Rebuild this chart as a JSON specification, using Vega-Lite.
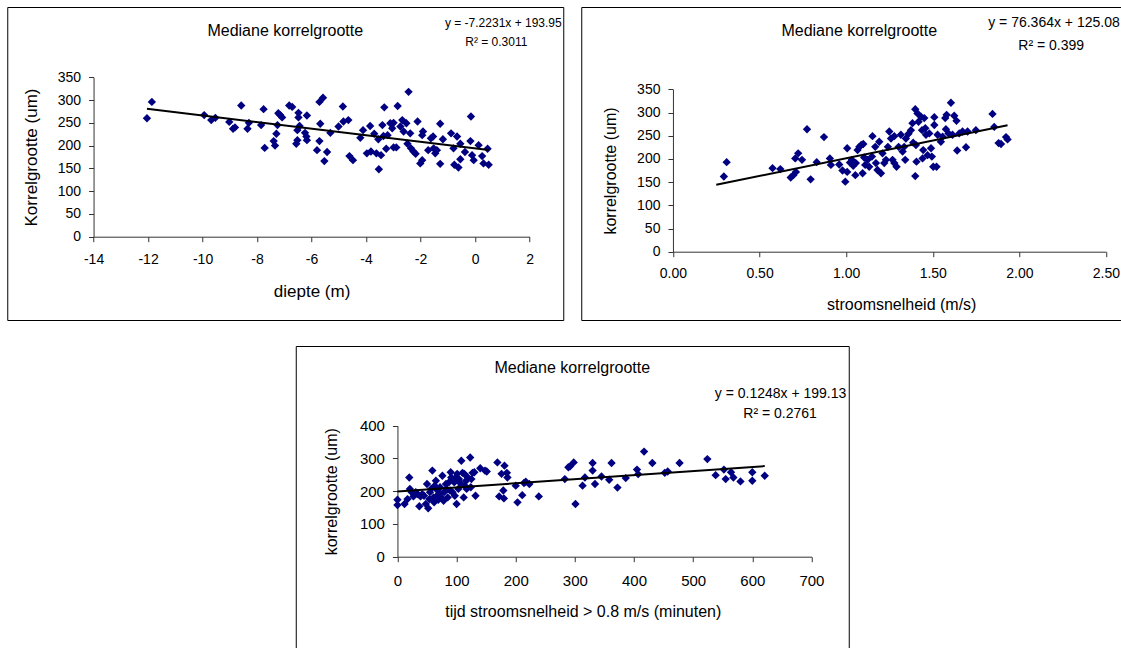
{
  "$schema": "https://vega.github.io/schema/vega-lite/v6.json",
  "padding": {"left": 6, "top": 6, "right": 0, "bottom": 0},
  "background": "white",
  "config": {
    "font": "Liberation Sans",
    "view": {"stroke": "black", "strokeWidth": 1},
    "axis": {
      "domainColor": "#333333", "tickColor": "#333333", "labelColor": "black", "titleColor": "black",
      "labelFont": "Liberation Sans", "titleFont": "Liberation Sans", "titleFontWeight": "normal",
      "grid": false, "tickSize": 5, "labelOverlap": false, "labelFlush": false
    },
    "title": {"font": "Liberation Sans", "fontWeight": "normal", "color": "black", "frame": "group", "anchor": "middle"},
    "text": {"font": "Liberation Sans", "color": "black"}
  },
  "datasets": {
    "d1": [
      {"x": -12.04, "y": 260}, {"x": -11.86, "y": 296}, {"x": -9.94, "y": 267}, {"x": -9.68, "y": 256}, {"x": -9.53, "y": 261},
      {"x": -9.02, "y": 252}, {"x": -8.88, "y": 237}, {"x": -8.81, "y": 240}, {"x": -8.58, "y": 288}, {"x": -8.35, "y": 237},
      {"x": -8.3, "y": 250}, {"x": -7.85, "y": 245}, {"x": -7.76, "y": 280}, {"x": -7.72, "y": 195}, {"x": -7.39, "y": 210},
      {"x": -7.34, "y": 200}, {"x": -7.29, "y": 226}, {"x": -7.25, "y": 245}, {"x": -7.22, "y": 271}, {"x": -7.15, "y": 267},
      {"x": -7.08, "y": 262}, {"x": -6.82, "y": 288}, {"x": -6.71, "y": 285}, {"x": -6.56, "y": 204}, {"x": -6.52, "y": 212},
      {"x": -6.52, "y": 234}, {"x": -6.48, "y": 272}, {"x": -6.48, "y": 262}, {"x": -6.44, "y": 243}, {"x": -6.24, "y": 228},
      {"x": -6.19, "y": 220}, {"x": -6.17, "y": 212}, {"x": -6.17, "y": 266},
      {"x": -5.71, "y": 296}, {"x": -5.58, "y": 305}, {"x": -5.68, "y": 248}, {"x": -5.71, "y": 210}, {"x": -5.8, "y": 190},
      {"x": -5.43, "y": 186}, {"x": -5.53, "y": 166}, {"x": -5.31, "y": 228}, {"x": -4.85, "y": 286}, {"x": -5.01, "y": 242},
      {"x": -4.83, "y": 253}, {"x": -4.65, "y": 256}, {"x": -4.61, "y": 177}, {"x": -4.48, "y": 168}, {"x": -4.21, "y": 217},
      {"x": -4.11, "y": 234}, {"x": -3.97, "y": 183}, {"x": -3.85, "y": 243}, {"x": -3.82, "y": 187}, {"x": -3.7, "y": 226},
      {"x": -3.62, "y": 183}, {"x": -3.53, "y": 148}, {"x": -3.55, "y": 214}, {"x": -3.45, "y": 179}, {"x": -3.4, "y": 245},
      {"x": -3.33, "y": 284}, {"x": -3.36, "y": 221}, {"x": -3.21, "y": 223}, {"x": -3.26, "y": 193}, {"x": -3.11, "y": 249},
      {"x": -3.04, "y": 238}, {"x": -2.99, "y": 196}, {"x": -2.89, "y": 196}, {"x": -2.99, "y": 250}, {"x": -2.84, "y": 287},
      {"x": -2.74, "y": 242}, {"x": -2.67, "y": 256}, {"x": -2.62, "y": 231}, {"x": -2.52, "y": 249}, {"x": -2.44, "y": 318},
      {"x": -2.48, "y": 204}, {"x": -2.38, "y": 227}, {"x": -2.35, "y": 194}, {"x": -2.26, "y": 187}, {"x": -2.18, "y": 182},
      {"x": -2.11, "y": 253}, {"x": -2.01, "y": 161}, {"x": -1.94, "y": 168}, {"x": -1.91, "y": 231}, {"x": -1.94, "y": 223},
      {"x": -1.72, "y": 190}, {"x": -1.62, "y": 216}, {"x": -1.54, "y": 220}, {"x": -1.52, "y": 194}, {"x": -1.46, "y": 183},
      {"x": -1.4, "y": 190}, {"x": -1.28, "y": 248}, {"x": -1.28, "y": 160}, {"x": -1.18, "y": 214}, {"x": -0.88, "y": 227},
      {"x": -0.79, "y": 194}, {"x": -0.76, "y": 158}, {"x": -0.66, "y": 220}, {"x": -0.61, "y": 152}, {"x": -0.54, "y": 204},
      {"x": -0.54, "y": 170}, {"x": -0.37, "y": 186}, {"x": -0.15, "y": 264}, {"x": -0.17, "y": 210}, {"x": -0.11, "y": 179},
      {"x": -0.05, "y": 168}, {"x": 0.13, "y": 201}, {"x": 0.26, "y": 177}, {"x": 0.31, "y": 161}, {"x": 0.46, "y": 193},
      {"x": 0.5, "y": 158}
    ],
    "t1": [{"x": -12.04, "y": 280.92}, {"x": 0.5, "y": 190.34}],
    "d2": [
      {"x": 0.294, "y": 162}, {"x": 0.31, "y": 193}, {"x": 0.575, "y": 180}, {"x": 0.62, "y": 178}, {"x": 0.68, "y": 160},
      {"x": 0.695, "y": 165}, {"x": 0.71, "y": 172}, {"x": 0.706, "y": 201}, {"x": 0.723, "y": 212}, {"x": 0.745, "y": 198},
      {"x": 0.774, "y": 264}, {"x": 0.795, "y": 156}, {"x": 0.83, "y": 193}, {"x": 0.872, "y": 247}, {"x": 0.906, "y": 201},
      {"x": 0.912, "y": 187}, {"x": 0.96, "y": 188}, {"x": 0.979, "y": 175}, {"x": 0.995, "y": 151}, {"x": 1.006, "y": 223},
      {"x": 1.006, "y": 172}, {"x": 1.022, "y": 192}, {"x": 1.033, "y": 198}, {"x": 1.041, "y": 185}, {"x": 1.053, "y": 165},
      {"x": 1.056, "y": 191}, {"x": 1.066, "y": 219}, {"x": 1.076, "y": 226}, {"x": 1.087, "y": 230}, {"x": 1.099, "y": 232},
      {"x": 1.095, "y": 169}, {"x": 1.104, "y": 203}, {"x": 1.11, "y": 187}, {"x": 1.124, "y": 198},
      {"x": 1.133, "y": 183}, {"x": 1.152, "y": 249}, {"x": 1.149, "y": 205}, {"x": 1.172, "y": 191}, {"x": 1.168, "y": 226},
      {"x": 1.181, "y": 176}, {"x": 1.191, "y": 237}, {"x": 1.201, "y": 169}, {"x": 1.21, "y": 212}, {"x": 1.22, "y": 191},
      {"x": 1.23, "y": 198}, {"x": 1.241, "y": 226}, {"x": 1.249, "y": 259}, {"x": 1.259, "y": 244}, {"x": 1.268, "y": 198},
      {"x": 1.278, "y": 191}, {"x": 1.291, "y": 183}, {"x": 1.278, "y": 249}, {"x": 1.303, "y": 226}, {"x": 1.316, "y": 252},
      {"x": 1.326, "y": 216}, {"x": 1.335, "y": 226}, {"x": 1.341, "y": 198}, {"x": 1.345, "y": 244}, {"x": 1.36, "y": 254},
      {"x": 1.374, "y": 262}, {"x": 1.383, "y": 277}, {"x": 1.387, "y": 235}, {"x": 1.399, "y": 307}, {"x": 1.403, "y": 230},
      {"x": 1.406, "y": 194}, {"x": 1.399, "y": 163}, {"x": 1.412, "y": 298}, {"x": 1.418, "y": 280}, {"x": 1.432, "y": 291},
      {"x": 1.438, "y": 262}, {"x": 1.441, "y": 201}, {"x": 1.445, "y": 219}, {"x": 1.451, "y": 288}, {"x": 1.457, "y": 266},
      {"x": 1.461, "y": 252}, {"x": 1.47, "y": 208}, {"x": 1.48, "y": 255}, {"x": 1.49, "y": 223}, {"x": 1.495, "y": 205},
      {"x": 1.503, "y": 183}, {"x": 1.509, "y": 290}, {"x": 1.509, "y": 273}, {"x": 1.522, "y": 183}, {"x": 1.528, "y": 252},
      {"x": 1.547, "y": 237}, {"x": 1.557, "y": 248}, {"x": 1.572, "y": 288}, {"x": 1.576, "y": 264}, {"x": 1.58, "y": 295},
      {"x": 1.591, "y": 255}, {"x": 1.605, "y": 321}, {"x": 1.614, "y": 252}, {"x": 1.624, "y": 293}, {"x": 1.637, "y": 282},
      {"x": 1.641, "y": 218}, {"x": 1.653, "y": 255}, {"x": 1.672, "y": 259}, {"x": 1.692, "y": 225}, {"x": 1.701, "y": 259},
      {"x": 1.749, "y": 262}, {"x": 1.845, "y": 297}, {"x": 1.855, "y": 269}, {"x": 1.88, "y": 234}, {"x": 1.894, "y": 232},
      {"x": 1.923, "y": 247}, {"x": 1.932, "y": 242}
    ],
    "t2": [{"x": 0.25, "y": 144.17}, {"x": 1.932, "y": 272.62}],
    "d3": [
      {"x": 0, "y": 174}, {"x": 0, "y": 158}, {"x": 12, "y": 161}, {"x": 17, "y": 176}, {"x": 20, "y": 242}, {"x": 21, "y": 207},
      {"x": 24, "y": 197}, {"x": 27, "y": 184}, {"x": 31, "y": 197}, {"x": 34, "y": 191}, {"x": 37, "y": 154}, {"x": 39, "y": 184},
      {"x": 42, "y": 191}, {"x": 45, "y": 186}, {"x": 48, "y": 161}, {"x": 50, "y": 222}, {"x": 52, "y": 148}, {"x": 54, "y": 176},
      {"x": 55, "y": 197}, {"x": 57, "y": 207}, {"x": 59, "y": 263}, {"x": 61, "y": 181}, {"x": 62, "y": 166}, {"x": 63, "y": 217},
      {"x": 65, "y": 232}, {"x": 67, "y": 186}, {"x": 68, "y": 202}, {"x": 69, "y": 174}, {"x": 70, "y": 191}, {"x": 72, "y": 212},
      {"x": 74, "y": 181}, {"x": 76, "y": 247}, {"x": 78, "y": 171}, {"x": 79, "y": 197}, {"x": 82, "y": 222}, {"x": 83, "y": 207},
      {"x": 85, "y": 181}, {"x": 87, "y": 227}, {"x": 89, "y": 202}, {"x": 90, "y": 258}, {"x": 91, "y": 242}, {"x": 93, "y": 197},
      {"x": 96, "y": 227}, {"x": 97, "y": 186}, {"x": 99, "y": 242}, {"x": 100, "y": 161}, {"x": 101, "y": 253}, {"x": 103, "y": 207},
      {"x": 104, "y": 237}, {"x": 106, "y": 225}, {"x": 108, "y": 293}, {"x": 110, "y": 256}, {"x": 112, "y": 181}, {"x": 113, "y": 253},
      {"x": 114, "y": 217}, {"x": 116, "y": 232}, {"x": 117, "y": 207}, {"x": 119, "y": 242}, {"x": 123, "y": 303}, {"x": 124, "y": 212},
      {"x": 125, "y": 237}, {"x": 127, "y": 256}, {"x": 130, "y": 258}, {"x": 132, "y": 186}, {"x": 140, "y": 270}, {"x": 148, "y": 263},
      {"x": 151, "y": 260}, {"x": 169, "y": 288}, {"x": 172, "y": 184}, {"x": 176, "y": 253}, {"x": 179, "y": 202}, {"x": 180, "y": 178},
      {"x": 181, "y": 278}, {"x": 185, "y": 256}, {"x": 186, "y": 242}, {"x": 200, "y": 217}, {"x": 203, "y": 166}, {"x": 211, "y": 188},
      {"x": 214, "y": 225}, {"x": 217, "y": 229}, {"x": 223, "y": 222}, {"x": 239, "y": 184}, {"x": 283, "y": 237}, {"x": 289, "y": 273},
      {"x": 292, "y": 276}, {"x": 298, "y": 288}, {"x": 301, "y": 161}, {"x": 313, "y": 217}, {"x": 317, "y": 242}, {"x": 330, "y": 286},
      {"x": 330, "y": 263}, {"x": 334, "y": 222}, {"x": 345, "y": 245}, {"x": 358, "y": 235}, {"x": 362, "y": 286}, {"x": 372, "y": 211},
      {"x": 386, "y": 240}, {"x": 405, "y": 266}, {"x": 407, "y": 252}, {"x": 417, "y": 321}, {"x": 431, "y": 286}, {"x": 452, "y": 256},
      {"x": 457, "y": 260}, {"x": 477, "y": 286}, {"x": 524, "y": 298}, {"x": 538, "y": 249}, {"x": 552, "y": 266}, {"x": 555, "y": 237},
      {"x": 564, "y": 258}, {"x": 568, "y": 242}, {"x": 580, "y": 230}, {"x": 600, "y": 258}, {"x": 600, "y": 232}, {"x": 621, "y": 247}
    ],
    "t3": [{"x": 0, "y": 199.13}, {"x": 621, "y": 276.63}]
  },
  "vconcat": [
    {
      "hconcat": [
        {
          "width": 556, "height": 313,
          "title": {"text": "Mediane korrelgrootte", "fontSize": 16, "offset": -32},
          "layer": [
            {
              "data": {"name": "d1"},
              "mark": {"type": "point", "shape": "diamond", "filled": true, "color": "#000080", "size": 70, "opacity": 1},
              "encoding": {
                "x": {"field": "x", "type": "quantitative",
                  "scale": {"domain": [-14, 2], "range": [86.3, 522.3], "nice": false, "zero": false},
                  "axis": {"title": "diepte (m)", "values": [-14, -12, -10, -8, -6, -4, -2, 0, 2], "offset": -83.3,
                    "labelExpr": "replace(datum.label, '\u2212', '-')",
                    "labelFontSize": 14, "titleFontSize": 17, "labelPadding": 11, "titlePadding": 17}},
                "y": {"field": "y", "type": "quantitative",
                  "scale": {"domain": [0, 350], "range": [229.7, 70.3], "nice": false},
                  "axis": {"title": "Korrelgrootte (um)", "values": [0, 50, 100, 150, 200, 250, 300, 350], "offset": -86.3,
                    "labelFontSize": 14, "titleFontSize": 17, "labelPadding": 8, "titlePadding": 17}}
              }
            },
            {
              "data": {"name": "t1"},
              "mark": {"type": "line", "color": "black", "strokeWidth": 2},
              "encoding": {"x": {"field": "x", "type": "quantitative"}, "y": {"field": "y", "type": "quantitative"}}
            },
            {
              "data": {"values": [{}]},
              "mark": {"type": "text", "align": "right", "baseline": "middle", "fontSize": 12},
              "encoding": {"x": {"datum": 3.18}, "y": {"datum": 469}, "text": {"value": "y = -7.2231x + 193.95"}}
            },
            {
              "data": {"values": [{}]},
              "mark": {"type": "text", "align": "center", "baseline": "middle", "fontSize": 12},
              "encoding": {"x": {"datum": 0.78}, "y": {"datum": 427}, "text": {"value": "R² = 0.3011"}}
            }
          ]
        },
        {
          "width": 556, "height": 313,
          "title": {"text": "Mediane korrelgrootte", "fontSize": 16, "offset": -32},
          "layer": [
            {
              "data": {"name": "d2"},
              "mark": {"type": "point", "shape": "diamond", "filled": true, "color": "#000080", "size": 70, "opacity": 1},
              "encoding": {
                "x": {"field": "x", "type": "quantitative",
                  "scale": {"domain": [0, 2.5], "range": [91.7, 524.7], "nice": false, "zero": false},
                  "axis": {"title": "stroomsnelheid (m/s)", "values": [0, 0.5, 1, 1.5, 2, 2.5], "format": ".2f", "offset": -68.3,
                    "labelFontSize": 14, "titleFontSize": 16, "labelPadding": 10, "titlePadding": 16, "titleX": 320}},
                "y": {"field": "y", "type": "quantitative",
                  "scale": {"domain": [0, 350], "range": [244.7, 82.3], "nice": false},
                  "axis": {"title": "korrelgrootte (um)", "values": [0, 50, 100, 150, 200, 250, 300, 350], "offset": -91.7,
                    "labelFontSize": 14, "titleFontSize": 16, "labelPadding": 8, "titlePadding": 18}}
              }
            },
            {
              "data": {"name": "t2"},
              "mark": {"type": "line", "color": "black", "strokeWidth": 2},
              "encoding": {"x": {"field": "x", "type": "quantitative"}, "y": {"field": "y", "type": "quantitative"}}
            },
            {
              "data": {"values": [{}]},
              "mark": {"type": "text", "align": "left", "baseline": "middle", "fontSize": 14},
              "encoding": {"x": {"datum": 1.82}, "y": {"datum": 493}, "text": {"value": "y = 76.364x + 125.08"}}
            },
            {
              "data": {"values": [{}]},
              "mark": {"type": "text", "align": "center", "baseline": "middle", "fontSize": 14},
              "encoding": {"x": {"datum": 2.184}, "y": {"datum": 443}, "text": {"value": "R² = 0.399"}}
            }
          ]
        }
      ],
      "spacing": 16
    },
    {
      "width": 553, "height": 313,
      "title": {"text": "Mediane korrelgrootte", "fontSize": 16, "offset": -30},
      "layer": [
        {
          "data": {"name": "d3"},
          "mark": {"type": "point", "shape": "diamond", "filled": true, "color": "#000080", "size": 70, "opacity": 1},
          "encoding": {
            "x": {"field": "x", "type": "quantitative",
              "scale": {"domain": [0, 700], "range": [101.7, 515.7], "nice": false, "zero": false},
              "axis": {"title": "tijd stroomsnelheid > 0.8 m/s (minuten)", "values": [0, 100, 200, 300, 400, 500, 600, 700], "offset": -102.3,
                "labelFontSize": 15, "titleFontSize": 16, "labelPadding": 12, "titlePadding": 15, "titleX": 287}},
            "y": {"field": "y", "type": "quantitative",
              "scale": {"domain": [0, 400], "range": [210.7, 79.7], "nice": false},
              "axis": {"title": "korrelgrootte (um)", "values": [0, 100, 200, 300, 400], "offset": -101.7,
                "labelFontSize": 15, "titleFontSize": 16, "labelPadding": 8, "titlePadding": 20}}
          }
        },
        {
          "data": {"name": "t3"},
          "mark": {"type": "line", "color": "black", "strokeWidth": 2},
          "encoding": {"x": {"field": "x", "type": "quantitative"}, "y": {"field": "y", "type": "quantitative"}}
        },
        {
          "data": {"values": [{}]},
          "mark": {"type": "text", "align": "right", "baseline": "middle", "fontSize": 14},
          "encoding": {"x": {"datum": 759}, "y": {"datum": 497}, "text": {"value": "y = 0.1248x + 199.13"}}
        },
        {
          "data": {"values": [{}]},
          "mark": {"type": "text", "align": "center", "baseline": "middle", "fontSize": 14},
          "encoding": {"x": {"datum": 647}, "y": {"datum": 436}, "text": {"value": "R² = 0.2761"}}
        }
      ]
    }
  ],
  "spacing": 24,
  "center": true
}
